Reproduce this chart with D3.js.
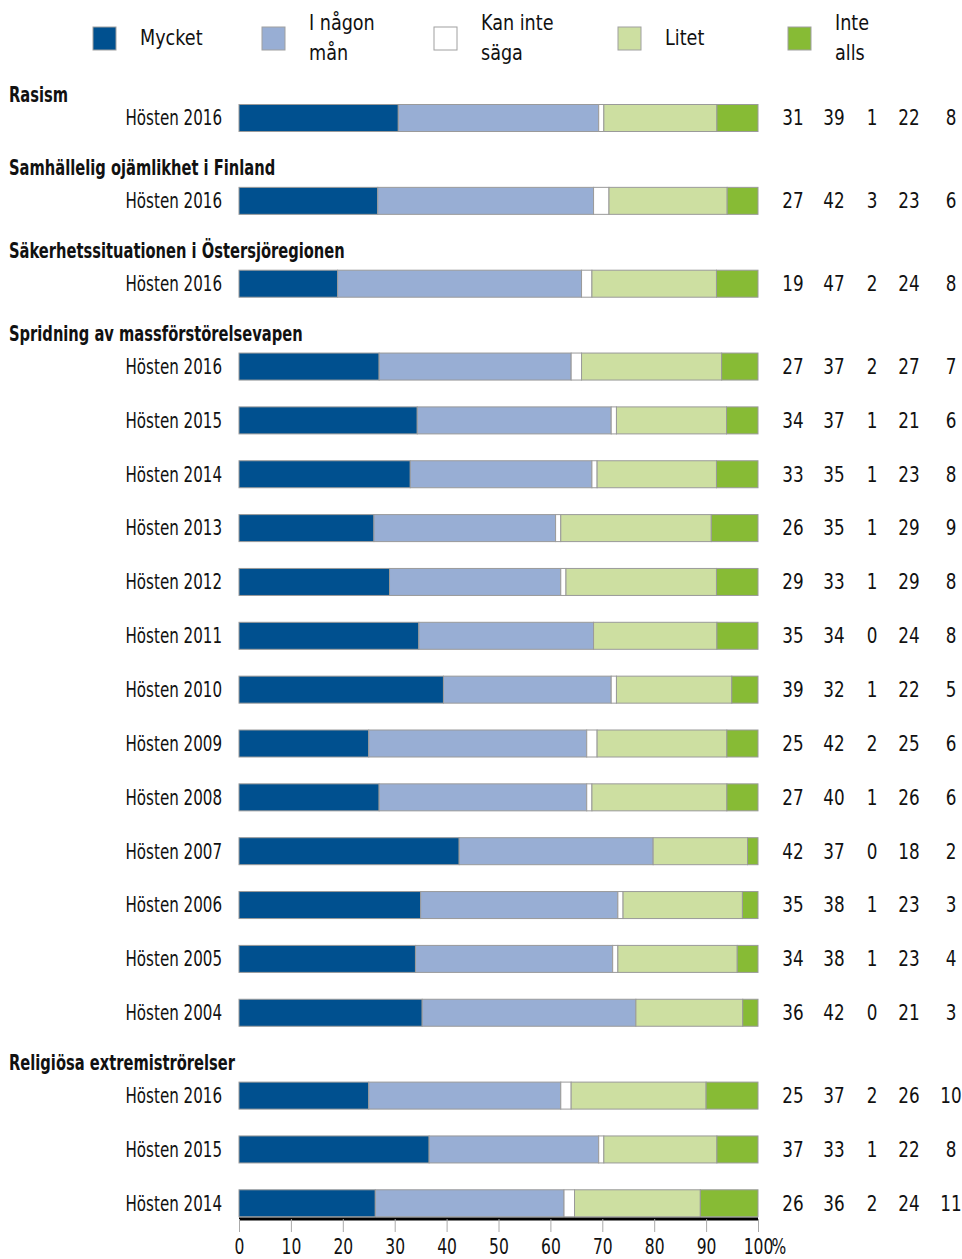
<!DOCTYPE html>
<html>
<head>
<meta charset="utf-8">
<script src="https://cdn.jsdelivr.net/npm/d3@7"></script>
<style>
  body { margin: 0; background: #fff; }
  svg { display: block; font-family: "DejaVu Sans", sans-serif; }
</style>
</head>
<body>
<div id="chart"></div>
<script>
// legend / series
const seriesNames = [["Mycket"], ["I någon", "mån"], ["Kan inte", "säga"], ["Litet"], ["Inte", "alls"]]
const seriesColors = ["#00508f", "#98aed4", "#ffffff", "#cddfa1", "#87bb35"]

// groups (question titles)
const groupTitles = [
  "Rasism",
  "Samhällelig ojämlikhet i Finland",
  "Säkerhetssituationen i Östersjöregionen",
  "Spridning av massförstörelsevapen",
  "Religiösa extremiströrelser"
]
const rasism = [["Hösten 2016", [31, 39, 1, 22, 8]]]
const ojamlikhet = [["Hösten 2016", [27, 42, 3, 23, 6]]]
const ostersjon = [["Hösten 2016", [19, 47, 2, 24, 8]]]
const massforstorelse = [
  ["Hösten 2016", [27, 37, 2, 27, 7]],
  ["Hösten 2015", [34, 37, 1, 21, 6]],
  ["Hösten 2014", [33, 35, 1, 23, 8]],
  ["Hösten 2013", [26, 35, 1, 29, 9]],
  ["Hösten 2012", [29, 33, 1, 29, 8]],
  ["Hösten 2011", [35, 34, 0, 24, 8]],
  ["Hösten 2010", [39, 32, 1, 22, 5]],
  ["Hösten 2009", [25, 42, 2, 25, 6]],
  ["Hösten 2008", [27, 40, 1, 26, 6]],
  ["Hösten 2007", [42, 37, 0, 18, 2]],
  ["Hösten 2006", [35, 38, 1, 23, 3]],
  ["Hösten 2005", [34, 38, 1, 23, 4]],
  ["Hösten 2004", [36, 42, 0, 21, 3]]
]
const extremism = [
  ["Hösten 2016", [25, 37, 2, 26, 10]],
  ["Hösten 2015", [37, 33, 1, 22, 8]],
  ["Hösten 2014", [26, 36, 2, 24, 11]]
]
const groupRows = [rasism, ojamlikhet, ostersjon, massforstorelse, extremism]
const xTicks = [0, 10, 20, 30, 40, 50, 60, 70, 80, 90, 100]

const width = 962
const height = 1259
const marginLeft = 239
const marginRight = 204
const firstRowY = 118
const rowStep = 53.85
const groupGap = 29
const barHeight = 27
const valueCols = [793, 834, 872, 909, 951]
const sx = 0.8            // horizontal squeeze, mimics a condensed face
const fs = 21

const svg = d3.select("#chart").append("svg")
  .attr("width", width)
  .attr("height", height)

const x = d3.scaleLinear([0, 100], [marginLeft, width - marginRight])
const at = (px, py, s = sx) => `translate(${px},${py}) scale(${s},1)`

// flatten rows with positions
const rows = []
const headers = []
let idx = 0
groupRows.forEach((g, gi) => {
  g.forEach((r, ri) => {
    const y = firstRowY + idx * rowStep + gi * groupGap
    if (ri === 0) headers.push({ title: groupTitles[gi], y: y - (gi === 0 ? 23 : 33) })
    rows.push({ label: r[0], values: r[1], y })
    idx++
  })
})

// legend
const legendX = [93, 262, 434, 618, 788]
const legend = svg.append("g")
seriesNames.forEach((name, i) => {
  legend.append("rect")
    .attr("x", legendX[i]).attr("y", 27)
    .attr("width", 23).attr("height", 23)
    .attr("fill", seriesColors[i])
    .attr("stroke", "#a0a0a0").attr("stroke-width", 1)
  const t = legend.append("text")
    .attr("transform", at(legendX[i] + 47, 0))
    .attr("font-size", 22)
    .attr("fill", "#111")
  if (name.length === 1) {
    t.attr("y", 45).text(name[0])
  } else {
    t.append("tspan").attr("x", 0).attr("y", 30).text(name[0])
    t.append("tspan").attr("x", 0).attr("y", 60).text(name[1])
  }
})

// group headers
svg.append("g").selectAll("text").data(headers).join("text")
  .attr("transform", d => at(9, d.y, 0.7))
  .attr("dy", "0.35em")
  .attr("font-size", fs)
  .attr("font-weight", "bold")
  .attr("fill", "#111")
  .text(d => d.title)

// row labels
svg.append("g").selectAll("text").data(rows).join("text")
  .attr("transform", d => at(222, d.y, 0.72))
  .attr("dy", "0.35em")
  .attr("text-anchor", "end")
  .attr("font-size", fs)
  .attr("fill", "#111")
  .text(d => d.label)

// bars
const barG = svg.append("g").selectAll("g").data(rows).join("g")
barG.selectAll("rect")
  .data(d => {
    const total = d3.sum(d.values)
    let acc = 0
    return d.values.map((v, i) => {
      const s = acc / total * 100
      acc += v
      return { i, x0: s, x1: acc / total * 100, y: d.y }
    })
  })
  .join("rect")
  .attr("x", d => x(d.x0))
  .attr("y", d => d.y - barHeight / 2)
  .attr("width", d => Math.max(0, x(d.x1) - x(d.x0)))
  .attr("height", barHeight)
  .attr("fill", d => seriesColors[d.i])
  .attr("stroke", "#9a9a9a")
  .attr("stroke-width", 1)

// values on the right
barG.selectAll("text")
  .data(d => d.values.map((v, i) => ({ v, i, y: d.y })))
  .join("text")
  .attr("transform", d => at(valueCols[d.i], d.y))
  .attr("dy", "0.35em")
  .attr("text-anchor", "middle")
  .attr("font-size", fs)
  .attr("fill", "#111")
  .text(d => d.v)

// x axis
const axisY = 1219
const axis = svg.append("g")
  .attr("transform", `translate(0,${axisY})`)
  .call(d3.axisBottom(x).tickValues(xTicks).tickSize(13).tickPadding(7).tickFormat(d => d))
axis.select(".domain").attr("stroke", "#000").attr("stroke-width", 3).attr("d", `M${x(0)},0H${x(100)}`)
axis.selectAll(".tick line").attr("stroke", "#aaa")
axis.selectAll(".tick text")
  .attr("transform", `scale(0.74,1)`)
  .attr("font-size", fs).attr("fill", "#111")
  .attr("font-family", "'DejaVu Sans', sans-serif")
axis.append("text")
  .attr("transform", at(x(100) + 21, 35, 0.74))
  .attr("font-size", fs).attr("fill", "#111")
  .attr("font-family", "'DejaVu Sans', sans-serif")
  .text("%")
</script>
</body>
</html>
